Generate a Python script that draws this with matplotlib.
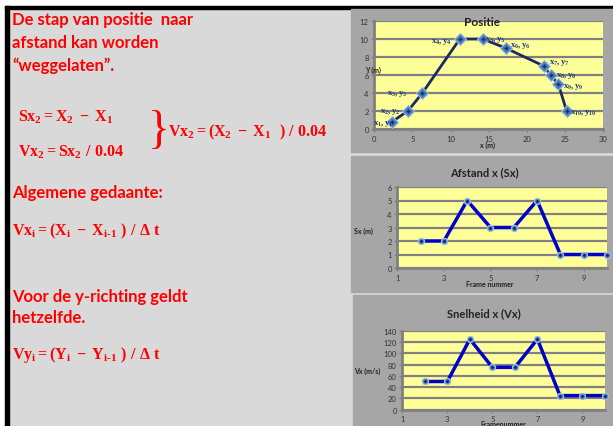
import matplotlib
matplotlib.use("Agg")
import matplotlib.pyplot as plt
from matplotlib.patches import Rectangle

plt.rcParams['font.family'] = ['Lato', 'DejaVu Sans']
plt.rcParams['mathtext.fontset'] = 'custom'
plt.rcParams['mathtext.rm'] = 'Liberation Serif:bold'
plt.rcParams['mathtext.it'] = 'Liberation Serif:bold'
plt.rcParams['mathtext.bf'] = 'Liberation Serif:bold'

# positie van het voorwerp per frame
pos_x = [2.3, 4.4, 6.3, 11.2, 14.2, 17.2, 22.2, 23.1, 24.1, 25.2]
pos_y = [0.8, 2, 4, 10, 10, 9, 7, 6, 5, 2]
pos_labels = [r'$x_1,y_1$', r'$x_2,y_2$', r'$x_3,y_3$', r'$x_4,y_4$', r'$x_5,y_5$',
              r'$x_6,y_6$', r'$x_7,y_7$', r'$x_8,y_8$', r'$x_9,y_9$', r'$x_{10},y_{10}$']
label_offsets = [(-9, -1), (-18, 0), (-25, 0), (-18, -2), (13, 0),
                 (15, 3), (16, 4), (16, 0), (15, -2), (17, -1)]

# afstand en snelheid per frame
frames = [2, 3, 4, 5, 6, 7, 8, 9, 10]
sx = [2, 2, 5, 3, 3, 5, 1, 1, 1]
vx = [50, 50, 125, 75, 75, 125, 25, 25, 25]

W, H = 613, 427
fig = plt.figure(figsize=(W / 100, H / 100), dpi=100)

# achtergrond in pixelcoordinaten
bg = fig.add_axes([0, 0, 1, 1])
bg.set_xlim(0, W)
bg.set_ylim(H, 0)
bg.axis('off')
bg.add_patch(Rectangle((0, 0), W, H, color='white'))
bg.add_patch(Rectangle((8, 9), W, H, color='#d9d9d9'))
bg.add_patch(Rectangle((5, 7), W, 2.5, color='black'))
bg.add_patch(Rectangle((5, 7), 3.5, H, color='black'))
bg.add_patch(Rectangle((351, 10), W - 351, 143, color='#a6a6a6'))
bg.add_patch(Rectangle((351, 157), W - 351, 136, color='#a6a6a6'))
bg.add_patch(Rectangle((353, 296), W - 353, 131, color='#a6a6a6'))

red = '#ff0000'
txt = dict(color=red, fontsize=12, fontweight='bold', va='center', ha='left')
bg.text(12, 20, 'De stap van positie  naar', **txt)
bg.text(12, 43, 'afstand kan worden', **txt)
bg.text(12, 66, '\u201cweggelaten\u201d.', **txt)
bg.text(12, 193, 'Algemene gedaante:', **txt)
bg.text(12, 297, 'Voor de y-richting geldt', **txt)
bg.text(12, 318, 'hetzelfde.', **txt)

frm = dict(color=red, fontsize=11.5, va='center', ha='left')
bg.text(18, 117, r'$Sx_2{=}X_2\;-\;X_1$', **frm)
bg.text(18, 152, r'$Vx_2{=}Sx_2\ /\ 0.04$', **frm)
bg.text(148, 132, '}', color=red, fontsize=33, family='Liberation Serif',
        va='center', ha='left')
bg.text(168, 132, r'$Vx_2{=}(X_2\;-\;X_1\ \ )\ /\ 0.04$', **frm)
bg.text(12, 231, r'$Vx_i{=}(X_i\;-\;X_{i\text{-}1}\ )\ /\ \Delta\ t$', **frm)
bg.text(12, 355, r'$Vy_i{=}(Y_i\;-\;Y_{i\text{-}1}\ )\ /\ \Delta\ t$', **frm)


def px_axes(x0, x1, y0, y1):
    return fig.add_axes([x0 / W, 1 - y1 / H, (x1 - x0) / W, (y1 - y0) / H])


def style(ax):
    ax.set_facecolor('#ffff99')
    for s in ['top', 'right']:
        ax.spines[s].set_visible(False)
    for s in ['left', 'bottom']:
        ax.spines[s].set_color('#808080')
        ax.spines[s].set_linewidth(2)
    ax.yaxis.grid(True, color='#808080', linewidth=1.6)
    ax.set_axisbelow(True)
    ax.tick_params(labelsize=5.5, labelcolor='#333333', color='#808080',
                   length=2, width=1, pad=2)


# Positie
ax1 = px_axes(374.3, 603.3, 22, 130)
style(ax1)
ax1.plot(pos_x, pos_y, color='#1c2a63', lw=2, zorder=3)
ax1.plot(pos_x, pos_y, ls='none', marker='D', ms=6, mfc='#4a7ebb', mec='#9dbde6',
         mew=0.8, zorder=4)
ax1.plot(pos_x, pos_y, ls='none', marker='+', ms=3, mec='#1c2a63', mew=1, zorder=5)
for x, y, lab, (dx, dy) in zip(pos_x, pos_y, pos_labels, label_offsets):
    ax1.annotate(lab, (x, y), xytext=(dx * 0.72, dy * 0.72), textcoords='offset points',
                 ha='center', va='center', fontsize=6.3, color='#1f3a7a', zorder=6)
ax1.set_xlim(0, 30)
ax1.set_ylim(0, 12)
ax1.set_xticks(range(0, 31, 5))
ax1.set_yticks(range(0, 13, 2))

# Afstand x
ax2 = px_axes(397.3, 607, 188, 269)
style(ax2)
ax2.plot(frames, sx, color='#0000cc', lw=2.5, zorder=3, clip_on=False)
ax2.plot(frames, sx, ls='none', marker='o', ms=4.5, mfc='#4f81bd', mec='#9dbde6',
         mew=0.8, zorder=4, clip_on=False)
ax2.plot(frames, sx, ls='none', marker='.', ms=2, color='#10206a', zorder=5,
         clip_on=False)
ax2.set_xlim(1, 10)
ax2.set_ylim(0, 6)
ax2.set_xticks([1, 3, 5, 7, 9])
ax2.set_yticks(range(0, 7))

# Snelheid x
ax3 = px_axes(402.3, 605, 331.7, 410.7)
style(ax3)
ax3.plot(frames, vx, color='#0000cc', lw=2.5, zorder=3, clip_on=False)
ax3.plot(frames, vx, ls='none', marker='o', ms=4.5, mfc='#4f81bd', mec='#9dbde6',
         mew=0.8, zorder=4, clip_on=False)
ax3.plot(frames, vx, ls='none', marker='.', ms=2, color='#10206a', zorder=5,
         clip_on=False)
ax3.set_xlim(1, 10)
ax3.set_ylim(0, 140)
ax3.set_xticks([1, 3, 5, 7, 9])
ax3.set_yticks(range(0, 141, 20))

# titels en aslabels bovenop de grafieken
top = fig.add_axes([0, 0, 1, 1])
top.set_xlim(0, W)
top.set_ylim(H, 0)
top.axis('off')
top.patch.set_visible(False)

ttl = dict(fontweight='bold', ha='center', va='center', color='#222222')
top.text(482, 23, 'Positie', fontsize=8.5, **ttl)
top.text(484, 173, 'Afstand x (Sx)', fontsize=8, **ttl)
top.text(484, 314, 'Snelheid x (Vx)', fontsize=8, **ttl)

lab = dict(fontsize=5, fontweight='bold', color='#222222', ha='center', va='center')
top.text(373, 70, 'Y (m)', **lab)
top.text(487, 145, 'x (m)', **lab)
top.text(363, 231, 'Sx (m)', **lab)
top.text(490, 285, 'Frame nummer', **lab)
top.text(367, 371, 'Vx (m/s)', **lab)
top.text(503, 425, 'Framenummer', **lab)

fig.savefig('out.png', dpi=100)
